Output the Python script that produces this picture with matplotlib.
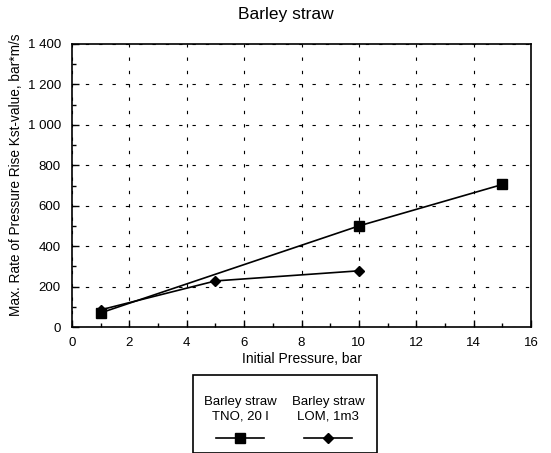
import matplotlib
matplotlib.use("Agg")
import matplotlib.pyplot as plt
from matplotlib.ticker import MultipleLocator, FuncFormatter
from matplotlib.lines import Line2D
from matplotlib.patches import Rectangle

plt.rcParams['font.family'] = ['Liberation Sans', 'DejaVu Sans']

# data
tno_x = [1, 10, 15]
tno_y = [70, 500, 705]
lom_x = [1, 5, 10]
lom_y = [85, 228, 278]
series_labels = ["Barley straw\nTNO, 20 l", "Barley straw\nLOM, 1m3"]

W, H = 551, 453
fig = plt.figure(figsize=(5.51, 4.53), dpi=100)
ax = fig.add_axes([0.1307, 0.2781, 0.833, 0.6248])

ax.plot(lom_x, lom_y, color='black', lw=1.2, marker='D', ms=5.5)
ax.plot(tno_x, tno_y, color='black', lw=1.2, marker='s', ms=7)

ax.set_xlim(0, 16)
ax.set_ylim(0, 1400)
ax.xaxis.set_major_locator(MultipleLocator(2))
ax.xaxis.set_minor_locator(MultipleLocator(1))
ax.yaxis.set_major_locator(MultipleLocator(200))
ax.yaxis.set_minor_locator(MultipleLocator(100))
ax.yaxis.set_major_formatter(FuncFormatter(lambda v, p: f"{int(v):,}".replace(",", " ")))
ax.tick_params(which='both', direction='in', labelsize=9.5, width=1)
ax.tick_params(axis='x', which='major', pad=7)
ax.tick_params(axis='y', which='major', pad=8)
ax.tick_params(which='major', length=5)
ax.tick_params(which='minor', length=3)
ax.grid(True, which='major', color='black', linestyle=(0, (3, 9)), lw=0.8)
for s in ax.spines.values():
    s.set_linewidth(1.2)

# title sits a bit left of the axes centre in the original
fig.text(286 / W, 1 - 15 / H, "Barley straw", ha='center', va='center', fontsize=12.5)
ax.set_xlabel("Initial Pressure, bar", fontsize=10, labelpad=2)
ax.set_ylabel("Max. Rate of Pressure Rise Kst-value, bar*m/s", fontsize=9.8, labelpad=3)
ax.yaxis.label.set_y(0.537)

# legend drawn by hand: text above the marker sample
fig.patches.append(Rectangle((193 / W, 0), 184 / W, (H - 375) / H, transform=fig.transFigure,
                             fill=False, edgecolor='black', lw=1.2))
cols = [(240, 's', 6.5), (328, 'D', 5)]
for (cx, mk, ms), lab in zip(cols, series_labels):
    fig.text(cx / W, 1 - 409 / H, lab, ha='center', va='center', fontsize=9.5, linespacing=1.3)
    fig.add_artist(Line2D([(cx - 24) / W, (cx + 24) / W], [1 - 438 / H] * 2, color='black', lw=1.2))
    fig.add_artist(Line2D([cx / W], [1 - 438 / H], color='black', marker=mk, ms=ms))

fig.savefig("out.png", dpi=100)
